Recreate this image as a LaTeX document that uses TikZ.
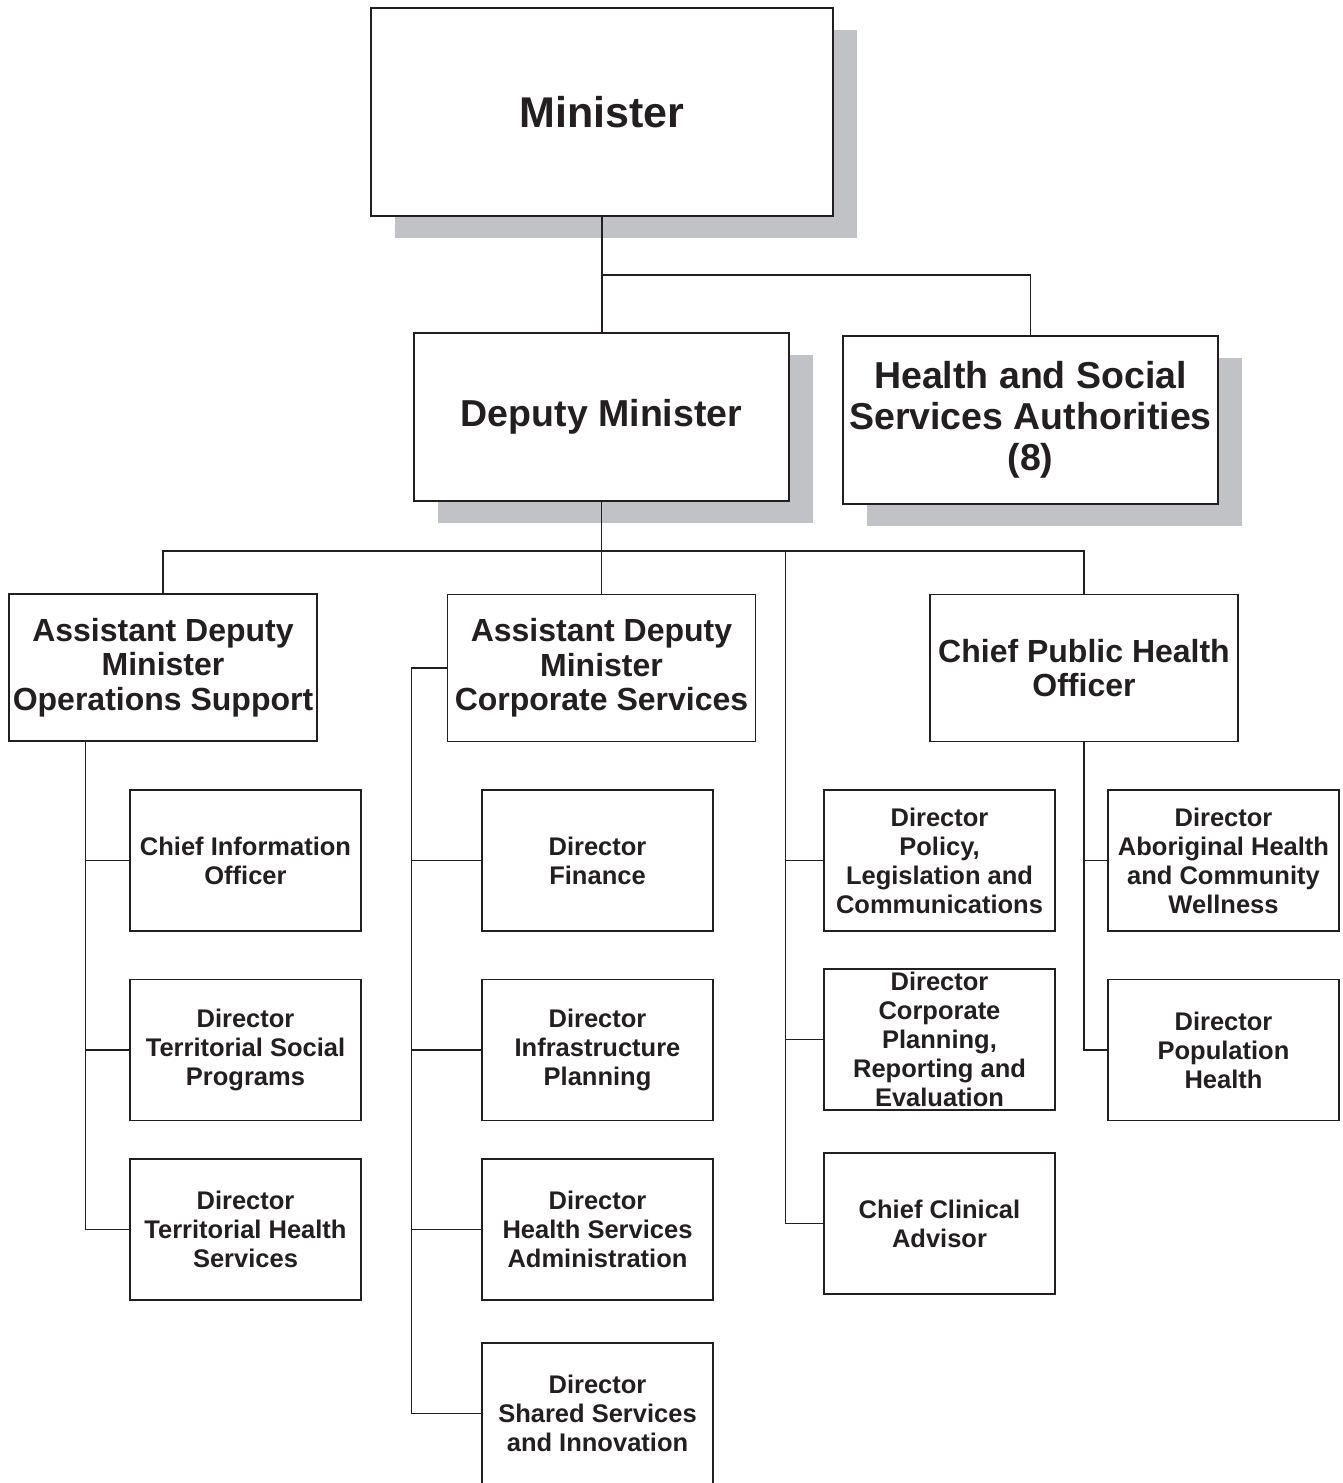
\documentclass[tikz,border=0pt]{standalone}
\usepackage{fontspec}
\setmainfont{Liberation Sans}
\usetikzlibrary{shadows,calc}
\definecolor{ink}{HTML}{231F20}
\definecolor{shadowgray}{HTML}{C1C2C6}
\tikzset{
  box/.style={draw=ink, line width=1.8pt, fill=white, inner sep=0pt, align=center, text=ink},
  shadowbox/.style={box, drop shadow={shadow xshift=24pt, shadow yshift=-22pt, fill=shadowgray, opacity=1}},
  link/.style={draw=ink, line width=1.2pt},
  lowbox/.style={box, minimum width=231pt, minimum height=141pt, font=\bfseries\fontsize{25.5}{29}\selectfont},
  midbox/.style={box, minimum width=308pt, minimum height=147pt, font=\bfseries\fontsize{32}{34.5}\selectfont},
  topbox/.style={shadowbox, minimum width=375pt, minimum height=168pt, font=\bfseries\fontsize{37.5}{41}\selectfont}
}
\begin{document}
\begin{tikzpicture}[x=1pt,y=-1pt]
\clip (0,0) rectangle (1343,1483);
\fill[white] (0,0) rectangle (1343,1483);
% top level
\node[shadowbox, minimum width=462pt, minimum height=208pt, font=\bfseries\fontsize{43}{48}\selectfont] (min) at (602,112) {Minister};
\node[topbox] (dm) at (601.5,417) {Deputy Minister};
\node[topbox] (hssa) at (1030.5,420) {Health and Social\\Services Authorities\\(8)};
% second level
\node[midbox] (ados) at (163,667.5) {Assistant Deputy\\Minister\\Operations Support};
\node[midbox] (adcs) at (601.5,668) {Assistant Deputy\\Minister\\Corporate Services};
\node[midbox] (cpho) at (1084,668) {Chief Public Health\\Officer};
% column 1
\node[lowbox] (cio) at (245.5,860.5) {Chief Information\\Officer};
\node[lowbox] (tsp) at (245.5,1050) {Director\\Territorial Social\\Programs};
\node[lowbox] (ths) at (245.5,1229.5) {Director\\Territorial Health\\Services};
% column 2
\node[lowbox] (fin) at (597.5,860.5) {Director\\Finance};
\node[lowbox] (inf) at (597.5,1050) {Director\\Infrastructure\\Planning};
\node[lowbox] (hsa) at (597.5,1229.5) {Director\\Health Services\\Administration};
\node[lowbox] (ssi) at (597.5,1413.5) {Director\\Shared Services\\and Innovation};
% column 3
\node[lowbox] (plc) at (939.5,860.5) {Director\\Policy,\\Legislation and\\Communications};
\node[lowbox] (cpr) at (939.5,1039.5) {Director\\Corporate\\Planning,\\Reporting and\\Evaluation};
\node[lowbox] (cca) at (939.5,1223.5) {Chief Clinical\\Advisor};
% column 4
\node[lowbox] (ahc) at (1223.5,860.5) {Director\\Aboriginal Health\\and Community\\Wellness};
\node[lowbox] (pop) at (1223.5,1050) {Director\\Population\\Health};
% connectors: top
\coordinate (j1) at ($(min.south)+(0,58)$);
\draw[link] (min.south) -- (min.south |- dm.north);
\draw[link] (j1) -| (hssa.north);
\coordinate (j2) at ($(dm.south)+(0,49)$);
\draw[link] (dm.south) -- (j2);
\draw[link] (ados.north) |- (j2) -| (cpho.north);
\draw[link] (j2) -- (j2 |- adcs.north);
% column 3 trunk
\coordinate (t3) at ($(j2)+(184,0)$);
\draw[link] (t3) |- (cca.west);
\draw[link] (t3 |- plc.west) -- (plc.west);
\draw[link] (t3 |- cpr.west) -- (cpr.west);
% column 1 trunk
\coordinate (t1) at ($(ados.south west)!0.25!(ados.south east)$);
\draw[link] (t1) |- (ths.west);
\draw[link] (t1 |- cio.west) -- (cio.west);
\draw[link] (t1 |- tsp.west) -- (tsp.west);
% column 2 trunk
\coordinate (t2) at ($(adcs.west)+(-35,0)$);
\draw[link] (adcs.west) -- (t2) |- (ssi.west);
\draw[link] (t2 |- fin.west) -- (fin.west);
\draw[link] (t2 |- inf.west) -- (inf.west);
\draw[link] (t2 |- hsa.west) -- (hsa.west);
% column 4 trunk
\draw[link] (cpho.south) |- (pop.west);
\draw[link] (cpho.south |- ahc.west) -- (ahc.west);
\end{tikzpicture}
\end{document}
